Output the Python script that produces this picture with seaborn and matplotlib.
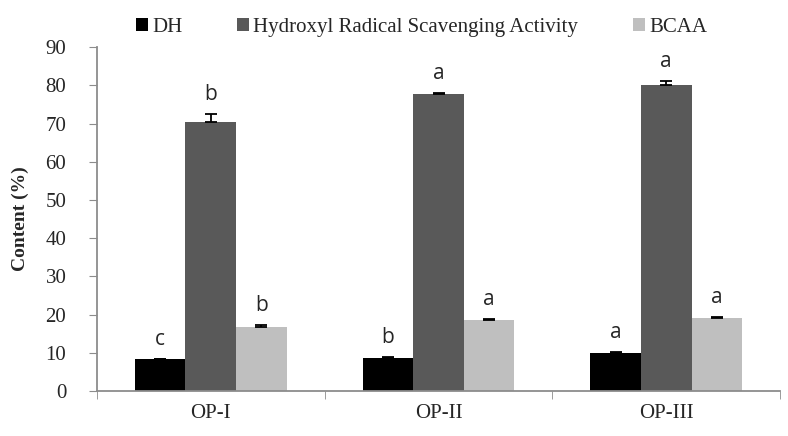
import matplotlib.pyplot as plt
import seaborn as sns
import pandas as pd
import numpy as np

samples = ["OP-I", "OP-II", "OP-III"]
series = ["DH", "Hydroxyl Radical Scavenging Activity", "BCAA"]
dh = [8.3, 8.6, 10.0]
hrsa = [70.3, 77.8, 80.2]
bcaa = [16.7, 18.6, 19.1]
dh_err = [0.2, 0.3, 0.3]
hrsa_err = [2.2, 0.3, 1.0]
bcaa_err = [0.6, 0.3, 0.3]
dh_sig = ["c", "b", "a"]
hrsa_sig = ["b", "a", "a"]
bcaa_sig = ["b", "a", "a"]

values = [dh, hrsa, bcaa]
errors = [dh_err, hrsa_err, bcaa_err]
letters = [dh_sig, hrsa_sig, bcaa_sig]

rows = []
for s, v in zip(series, values):
    for sample, val in zip(samples, v):
        rows.append({"sample": sample, "series": s, "value": val})
df = pd.DataFrame(rows)

sns.set_style("white")
plt.rcParams["font.family"] = ["Liberation Serif", "DejaVu Serif"]
palette = ["#000000", "#595959", "#bfbfbf"]

fig = plt.figure(figsize=(7.88, 4.36), dpi=100)
ax = fig.add_axes([0.123, 0.103, 0.867, 0.789])

sns.barplot(data=df, x="sample", y="value", hue="series", order=samples,
            hue_order=series, palette=palette, width=0.667, saturation=1,
            errorbar=None, ax=ax, linewidth=0)

# error bars (upper only) and significance letters
bar_conts = list(ax.containers)
for i, cont in enumerate(bar_conts):
    for j, bar in enumerate(cont.patches):
        x = bar.get_x() + bar.get_width() / 2
        h = bar.get_height()
        e = errors[i][j]
        ax.errorbar(x, h, yerr=[[0], [e]], fmt="none", ecolor="black",
                    elinewidth=1.3, capsize=4, capthick=1.3)
        ax.text(x, h + e + 2.3, letters[i][j], ha="center", va="bottom",
                fontsize=15, family="Open Sans")

ax.set_ylim(0, 90)
ax.set_yticks(np.arange(0, 91, 10))
ax.set_xlim(-0.5, 2.5)
ax.set_xticks([-0.5, 0.5, 1.5, 2.5], minor=True)
ax.tick_params(axis="x", which="major", length=0, labelsize=15, pad=9)
ax.tick_params(axis="x", which="minor", length=6, color="#8c8c8c", direction="out", bottom=True)
ax.tick_params(axis="y", length=6, color="#8c8c8c", direction="out", left=True, labelsize=15, pad=16)
for sp in ["top", "right"]:
    ax.spines[sp].set_visible(False)
for sp in ["left", "bottom"]:
    ax.spines[sp].set_color("#8c8c8c")
    ax.spines[sp].set_linewidth(1.3)

ax.set_xlabel("")
ax.set_ylabel("Content (%)", fontsize=14, fontweight="bold", labelpad=12)

ax.legend(title="", loc="lower center", bbox_to_anchor=(0.475, 1.0), ncols=3,
          frameon=False, fontsize=15, handlelength=0.6, handleheight=0.6,
          handletextpad=0.2, columnspacing=2.6, borderaxespad=0.1)

plt.savefig("out.png", dpi=100)
